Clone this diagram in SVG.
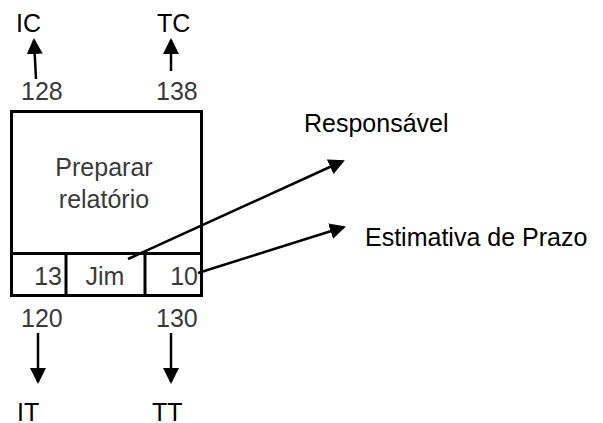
<svg xmlns="http://www.w3.org/2000/svg" width="603" height="423" viewBox="0 0 603 423">
  <style>
    .lbl { font-family: "Liberation Sans", Arial, sans-serif; font-size: 25px; fill: #000; }
    .val { font-family: "Liberation Sans", Arial, sans-serif; font-size: 25px; fill: #3a3a3a; }
    .box { fill: #fff; stroke: #000; stroke-width: 3; }
    .div { stroke: #000; stroke-width: 3; fill: none; }
    .conn { stroke: #000; stroke-width: 2.5; fill: none; marker-end: url(#head); }
  </style>
  <defs>
    <marker id="head" markerUnits="userSpaceOnUse" markerWidth="16" markerHeight="16" refX="14" refY="8" orient="auto">
      <path d="M0,0 L16,8 L0,16 z" fill="#000"/>
    </marker>
  </defs>
  <rect width="603" height="423" fill="#fff"/>

  <!-- activity node: name, early/late dates, duration, owner -->
  <g id="activity">
    <rect class="box" x="11.5" y="111.5" width="190" height="184"/>
    <line class="div" x1="11.5" y1="253.5" x2="201.5" y2="253.5"/>
    <line class="div" x1="66" y1="253.5" x2="66" y2="295.5"/>
    <line class="div" x1="145" y1="253.5" x2="145" y2="295.5"/>
    <text class="val" x="104" y="176" text-anchor="middle">Preparar</text>
    <text class="val" x="104" y="208" text-anchor="middle">relatório</text>
    <text class="val" x="62" y="285" text-anchor="end">13</text>
    <text class="val" x="105" y="285" text-anchor="middle">Jim</text>
    <text class="val" x="198" y="285" text-anchor="end">10</text>
  </g>

  <!-- date values around the node -->
  <g id="dates">
    <text class="val" x="21" y="100">128</text>
    <text class="val" x="156" y="100">138</text>
    <text class="val" x="21" y="327">120</text>
    <text class="val" x="156" y="327">130</text>
  </g>

  <!-- field labels -->
  <g id="labels">
    <text class="lbl" x="16" y="32">IC</text>
    <text class="lbl" x="157" y="32">TC</text>
    <text class="lbl" x="17" y="421">IT</text>
    <text class="lbl" x="152" y="421">TT</text>
    <text class="lbl" x="304" y="132">Responsável</text>
    <text class="lbl" x="365" y="246">Estimativa de Prazo</text>
  </g>

  <!-- connectors -->
  <g id="connectors">
    <line class="conn" x1="36" y1="79" x2="34" y2="40"/>
    <line class="conn" x1="171" y1="71" x2="171" y2="40"/>
    <line class="conn" x1="38" y1="333" x2="38" y2="382"/>
    <line class="conn" x1="171" y1="333" x2="171" y2="382"/>
    <line class="conn" x1="128" y1="259" x2="343" y2="161"/>
    <line class="conn" x1="198" y1="273" x2="344" y2="227"/>
  </g>
</svg>
